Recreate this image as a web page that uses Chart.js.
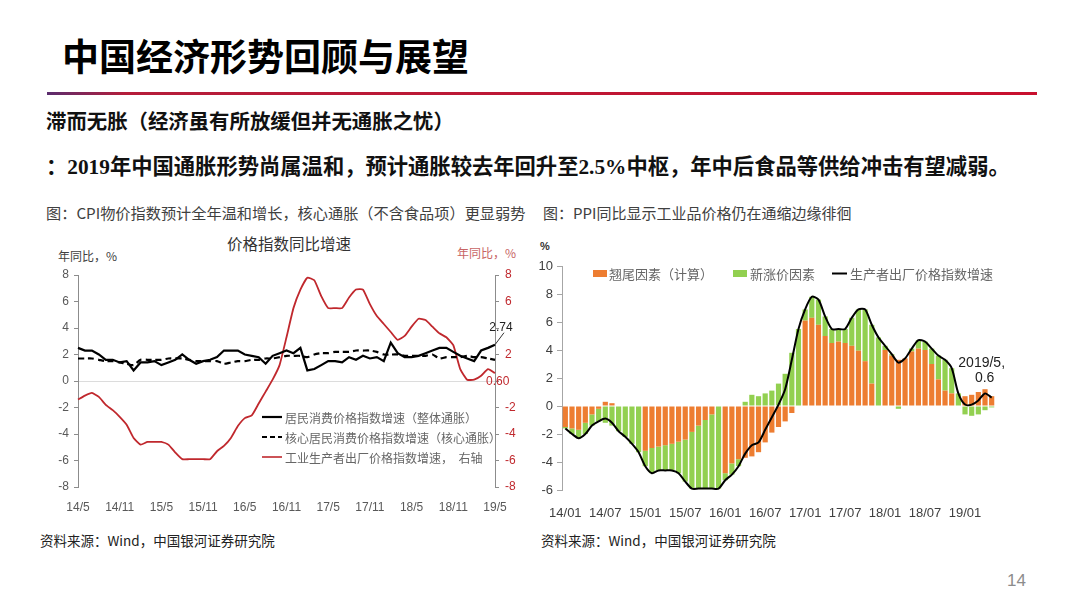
<!DOCTYPE html>
<html><head><meta charset="utf-8">
<script src="https://cdn.jsdelivr.net/npm/chart.js@4.4.1/dist/chart.umd.min.js"></script>
<style>
body{margin:0;background:#fff;}
#page{position:relative;width:1080px;height:604px;overflow:hidden;background:#fff;font-family:"Noto Sans CJK SC","Noto Sans",sans-serif;}
.t{position:absolute;white-space:nowrap;line-height:1;}
.num{font-family:"Liberation Serif",serif;font-weight:700;}
canvas{position:absolute;}
</style></head><body><div id="page">
<div class="t" style="left:62px;top:37px;font-size:37px;font-weight:700;color:#000">中国经济形势回顾与展望</div>
<div style="position:absolute;left:47px;top:92px;width:990px;height:3px;background:linear-gradient(90deg,#5a2d6e 0%,#b51d3a 8%,#c8102e 100%)"></div>
<div class="t" style="left:46px;top:110px;font-size:20.4px;font-weight:700;color:#111">滞而无胀（经济虽有所放缓但并无通胀之忧）</div>
<div class="t" style="left:46px;top:154px;font-size:21.3px;font-weight:700;color:#111">：<span class="num">2019</span>年中国通胀形势尚属温和，预计通胀较去年回升至<span class="num">2.5%</span>中枢，年中后食品等供给冲击有望减弱。</div>
<div class="t" style="left:46px;top:205px;font-size:15.2px;color:#404040">图：CPI物价指数预计全年温和增长，核心通胀（不含食品项）更显弱势</div>
<div class="t" style="left:543px;top:205px;font-size:15px;color:#404040">图：PPI同比显示工业品价格仍在通缩边缘徘徊</div>

<div class="t" style="left:227px;top:236px;font-size:15.5px;color:#333">价格指数同比增速</div>
<div class="t" style="left:58px;top:250px;font-size:12px;color:#404040">年同比，%</div>
<div class="t" style="left:457px;top:247px;font-size:12px;color:#c86464">年同比，%</div>
<div class="t" style="left:540px;top:241px;font-size:11px;font-weight:700;color:#333;font-family:'Liberation Sans',sans-serif">%</div>

<canvas id="c1" width="490" height="285" style="left:40px;top:230px;width:490px;height:285px"></canvas>
<canvas id="c2" width="480" height="290" style="left:530px;top:230px;width:480px;height:290px"></canvas>

<div class="t" style="left:40px;top:534px;font-size:13.5px;color:#222">资料来源：Wind，中国银河证券研究院</div>
<div class="t" style="left:541px;top:534px;font-size:13.5px;color:#222">资料来源：Wind，中国银河证券研究院</div>
<div class="t" style="left:1007px;top:572px;font-size:17px;color:#8c8c8c;font-family:'Liberation Sans',sans-serif">14</div>
</div>
<script>
// ---- Left chart data (2014/05 - 2019/05, monthly) ----
const monthsL = "14/5 14/6 14/7 14/8 14/9 14/10 14/11 14/12 15/1 15/2 15/3 15/4 15/5 15/6 15/7 15/8 15/9 15/10 15/11 15/12 16/1 16/2 16/3 16/4 16/5 16/6 16/7 16/8 16/9 16/10 16/11 16/12 17/1 17/2 17/3 17/4 17/5 17/6 17/7 17/8 17/9 17/10 17/11 17/12 18/1 18/2 18/3 18/4 18/5 18/6 18/7 18/8 18/9 18/10 18/11 18/12 19/1 19/2 19/3 19/4 19/5".split(" ");
const tickLabelsL = ["14/5","14/11","15/5","15/11","16/5","16/11","17/5","17/11","18/5","18/11","19/5"];
const cpi = [2.5,2.3,2.3,2.0,1.6,1.6,1.4,1.5, 0.8,1.4,1.4,1.5,1.2,1.4,1.6,2.0,1.6,1.3,1.5,1.6, 1.8,2.3,2.3,2.3,2.0,1.9,1.8,1.3,1.9,2.1,2.3,2.1, 2.5,0.8,0.9,1.2,1.5,1.5,1.4,1.8,1.6,1.9,1.7,1.8, 1.5,2.9,2.1,1.8,1.8,1.9,2.1,2.3,2.5,2.5,2.2,1.9, 1.7,1.5,2.3,2.5,2.74];
const coreCpi = [1.7,1.7,1.7,1.6,1.5,1.5,1.4,1.3, 1.2,1.6,1.6,1.6,1.6,1.7,1.7,1.7,1.6,1.5,1.5,1.5, 1.5,1.3,1.4,1.5,1.5,1.6,1.6,1.7,1.7,1.8,1.9,1.9, 1.9,1.8,2.0,2.1,2.1,2.2,2.2,2.2,2.3,2.3,2.3,2.2, 2.0,2.0,2.0,1.9,1.9,1.9,1.9,2.0,1.7,1.8,1.8,1.8, 1.9,1.8,1.8,1.7,1.6];
const ppiL = [-1.4,-1.1,-0.9,-1.2,-1.8,-2.2,-2.7,-3.3, -4.3,-4.8,-4.6,-4.6,-4.6,-4.8,-5.4,-5.9,-5.9,-5.9,-5.9,-5.9, -5.3,-4.9,-4.3,-3.4,-2.8,-2.6,-1.7,-0.8,0.1,1.2,3.3,5.5, 6.9,7.8,7.6,6.4,5.5,5.5,5.5,6.3,6.9,6.9,5.8,4.9, 4.3,3.7,3.1,3.4,4.1,4.7,4.6,4.1,3.6,3.3,2.7,0.9, 0.1,0.1,0.4,0.9,0.6];
const legendL = ["居民消费价格指数增速（整体通胀）","核心居民消费价格指数增速（核心通胀）","工业生产者出厂价格指数增速，  右轴"];

// ---- Right chart data (2014/01 - 2019/05, monthly) ----
const monthsR = "14/01 14/02 14/03 14/04 14/05 14/06 14/07 14/08 14/09 14/10 14/11 14/12 15/01 15/02 15/03 15/04 15/05 15/06 15/07 15/08 15/09 15/10 15/11 15/12 16/01 16/02 16/03 16/04 16/05 16/06 16/07 16/08 16/09 16/10 16/11 16/12 17/01 17/02 17/03 17/04 17/05 17/06 17/07 17/08 17/09 17/10 17/11 17/12 18/01 18/02 18/03 18/04 18/05 18/06 18/07 18/08 18/09 18/10 18/11 18/12 19/01 19/02 19/03 19/04 19/05".split(" ");
const tickLabelsR = ["14/01","14/07","15/01","15/07","16/01","16/07","17/01","17/07","18/01","18/07","19/01"];
const ppiR = [-1.6,-2.0,-2.3,-2.0,-1.4,-1.1,-0.9,-1.2,-1.8,-2.2,-2.7,-3.3, -4.3,-4.8,-4.6,-4.6,-4.6,-4.8,-5.4,-5.9,-5.9,-5.9,-5.9,-5.9, -5.3,-4.9,-4.3,-3.4,-2.8,-2.6,-1.7,-0.8,0.1,1.2,3.3,5.5, 6.9,7.8,7.6,6.4,5.5,5.5,5.5,6.3,6.9,6.9,5.8,4.9, 4.3,3.7,3.1,3.4,4.1,4.7,4.6,4.1,3.6,3.3,2.7,0.9, 0.1,0.1,0.4,0.9,0.6];
const carryOver = [-1.5,-1.6,-1.7,-1.2,-0.6,-0.2,0.3,0.2,0,0,0,0, -3.2,-3.0,-2.9,-2.8,-2.7,-2.55,-2.4,-1.85,-1.4,-1.0,-0.6,0, -4.8,-4.1,-3.8,-3.7,-3.6,-3.3,-2.6,-1.9,-1.5,-1.1,-0.5,0, 6.1,6.3,5.8,5.0,4.5,4.6,4.5,4.3,3.95,3.2,1.6,0, 4.0,3.6,3.3,3.4,3.9,4.1,4.0,3.0,1.9,1.1,0.9,0, 0.7,0.8,1.0,1.2,0.7];
const newPrice = [-0.1,-0.4,-0.6,-0.8,-0.8,-0.9,-1.2,-1.4,-1.8,-2.2,-2.7,-3.3, -1.1,-1.8,-1.7,-1.8,-1.9,-2.25,-3.0,-4.05,-4.5,-4.9,-5.3,-5.9, -0.5,-0.8,-0.5,0.3,0.8,0.7,0.9,1.1,1.6,2.3,3.8,5.5, 0.8,1.5,1.8,1.4,1.0,0.9,1.0,2.0,2.95,3.7,4.2,4.9, 0.3,0.1,-0.2,0,0.2,0.6,0.6,1.1,1.7,2.2,1.8,0.9, -0.6,-0.7,-0.6,-0.3,-0.1];

Chart.defaults.font.family = '"Liberation Sans","Noto Sans CJK SC",sans-serif';
Chart.defaults.animation = false;
const AX = '#8c8c8c';
const RED = '#c0282d';

const leftDecor = {
  id:'leftDecor',
  afterDraw(chart){
    const c = chart.ctx; c.save();
    const styles = [{col:'#000',dash:[],w:2.2},{col:'#000',dash:[5,3],w:2.2},{col:RED,dash:[],w:1.6}];
    c.font = '12px "Noto Sans CJK SC"'; c.textBaseline='middle';
    legendL.forEach((t,i)=>{
      const y = 187 + i*20;
      c.beginPath(); c.strokeStyle=styles[i].col; c.lineWidth=styles[i].w; c.setLineDash(styles[i].dash);
      c.moveTo(222,y); c.lineTo(242,y); c.stroke();
      c.setLineDash([]);
      c.fillStyle='#666'; c.textAlign='left'; c.fillText(t,245,y+1);
    });
    const xs = chart.scales.x, ys = chart.scales.y, y1 = chart.scales.y1;
    const lx = xs.getPixelForValue(cpi.length-1), ly = ys.getPixelForValue(cpi[cpi.length-1]);
    c.beginPath(); c.strokeStyle='#333'; c.lineWidth=1; c.moveTo(lx,ly); c.lineTo(lx+9,ly-12); c.stroke();
    c.font='12px "Liberation Sans"'; c.fillStyle='#222'; c.textAlign='center';
    c.fillText(cpi[cpi.length-1].toFixed(2), lx+6, ly-17);
    c.fillStyle=RED; c.textAlign='left';
    c.fillText(ppiL[ppiL.length-1].toFixed(2), y1.left-9, y1.getPixelForValue(0)+1);
    c.restore();
  }
};

new Chart(document.getElementById('c1'), {
  type:'line',
  data:{labels:monthsL, datasets:[
    {label:legendL[0], data:cpi, borderColor:'#000', borderWidth:2.2, pointRadius:0, tension:0, yAxisID:'y'},
    {label:legendL[1], data:coreCpi, borderColor:'#000', borderWidth:2.2, borderDash:[6,4], pointRadius:0, tension:0.2, yAxisID:'y'},
    {label:legendL[2], data:ppiL, borderColor:RED, borderWidth:1.8, pointRadius:0, tension:0.15, yAxisID:'y1'}
  ]},
  options:{
    responsive:false, animation:false, events:[],
    layout:{padding:{top:45,left:0,right:0,bottom:0}},
    plugins:{legend:{display:false}, tooltip:{enabled:false}},
    scales:{
      x:{offset:false, grid:{display:false}, border:{display:false},
         ticks:{autoSkip:false, maxRotation:0, padding:5, color:'#595959', font:{size:12},
           callback(v){const l=this.getLabelForValue(v); return tickLabelsL.includes(l)?l:null;}},
         afterFit(s){s.height=28;}},
      y:{position:'left', min:-8, max:8,
         ticks:{stepSize:2, color:'#595959', font:{size:12}, padding:5},
         grid:{color:(ctx)=> (ctx.tick && ctx.tick.value===0)?'#dcdcdc':'rgba(0,0,0,0)', tickColor:AX, tickLength:4, lineWidth:1},
         border:{color:AX},
         afterFit(s){s.width=38;}},
      y1:{position:'right', min:-8, max:8,
         ticks:{stepSize:2, color:RED, font:{size:12}, padding:6, callback:(v)=> (v===4||v===0)?'':v},
         grid:{drawOnChartArea:false, tickColor:AX, tickLength:4},
         border:{color:AX},
         afterFit(s){s.width=35;}}
    }
  },
  plugins:[leftDecor]
});

const rightDecor = {
  id:'rightDecor',
  afterDraw(chart){
    const c = chart.ctx; c.save();
    c.font='13px "Noto Sans CJK SC"'; c.textBaseline='middle'; c.textAlign='left';
    c.fillStyle='#ED7D31'; c.fillRect(63,40,14,7);
    c.fillStyle='#666'; c.fillText('翘尾因素（计算）',79,44);
    c.fillStyle='#92D050'; c.fillRect(203,40,14,7);
    c.fillStyle='#666'; c.fillText('新涨价因素',220,44);
    c.beginPath(); c.strokeStyle='#000'; c.lineWidth=2; c.moveTo(302,43.5); c.lineTo(317,43.5); c.stroke();
    c.fillStyle='#666'; c.fillText('生产者出厂价格指数增速',320,44);
    const xs = chart.scales.x, ys = chart.scales.y;
    const n = ppiR.length-1;
    const px = xs.getPixelForValue(n), py = ys.getPixelForValue(ppiR[n]);
    c.font='14px "Liberation Sans"'; c.fillStyle='#222'; c.textAlign='center';
    c.fillText(monthsR[n].replace('19/05','2019/5')+',', px-10, py-34);
    c.fillText(String(ppiR[n]), px-7, py-19);
    c.restore();
  }
};

new Chart(document.getElementById('c2'), {
  type:'bar',
  data:{labels:monthsR, datasets:[
    {type:'line', label:'生产者出厂价格指数增速', data:ppiR, borderColor:'#000', borderWidth:2, pointRadius:0, tension:0.25, stack:'line', order:0},
    {type:'bar', label:'翘尾因素（计算）', data:carryOver, backgroundColor:'#ED7D31', stack:'bar', order:1, categoryPercentage:0.78, barPercentage:1},
    {type:'bar', label:'新涨价因素', data:newPrice, backgroundColor:'#92D050', stack:'bar', order:2, categoryPercentage:0.78, barPercentage:1}
  ]},
  options:{
    responsive:false, animation:false, events:[],
    layout:{padding:{top:36,left:0,right:15,bottom:0}},
    plugins:{legend:{display:false}, tooltip:{enabled:false}},
    scales:{
      x:{stacked:true, offset:true, grid:{display:false}, border:{display:false},
         ticks:{autoSkip:false, maxRotation:0, padding:8, color:'#404040', font:{size:13},
           callback(v){const l=this.getLabelForValue(v); return tickLabelsR.includes(l)?l:null;}},
         afterFit(s){s.height=30;}},
      y:{stacked:true, min:-6, max:10,
         ticks:{stepSize:2, color:'#404040', font:{size:13}, padding:4},
         grid:{drawOnChartArea:false, tickColor:'#a6a6a6', tickLength:5},
         border:{color:'#a6a6a6'},
         afterFit(s){s.width=32;}}
    }
  },
  plugins:[rightDecor]
});
</script>
</body></html>
